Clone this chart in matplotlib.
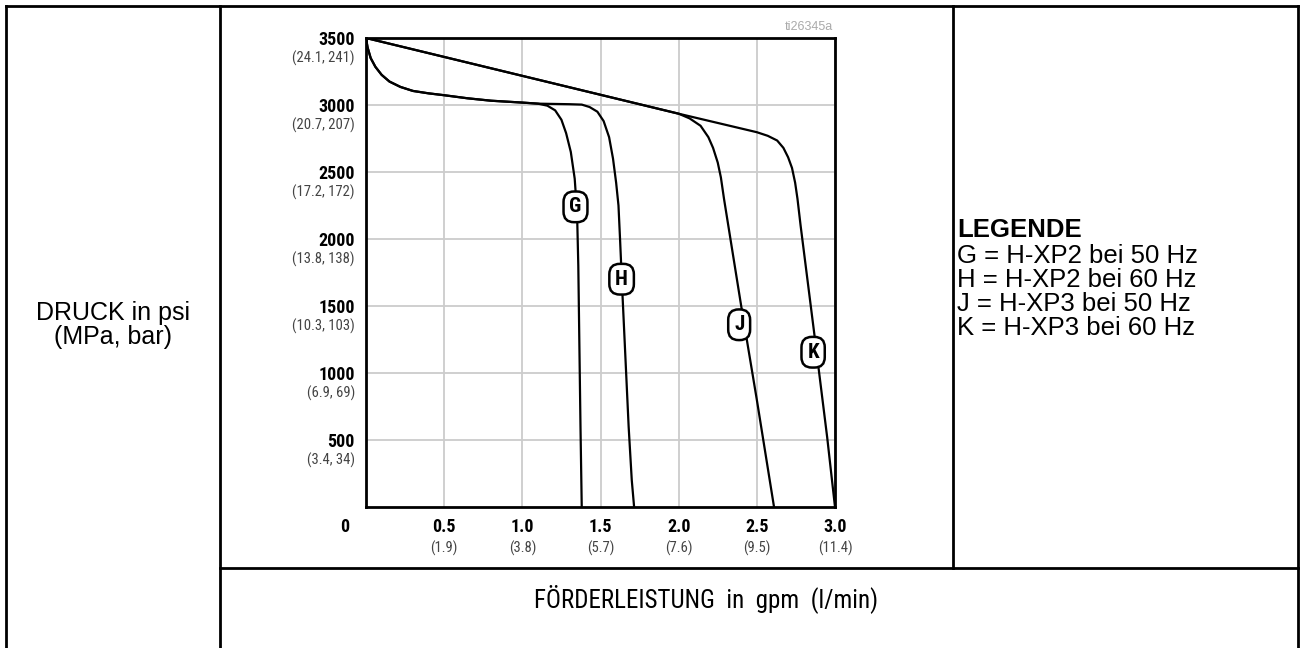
import matplotlib
matplotlib.use("Agg")
import matplotlib.pyplot as plt
from matplotlib import font_manager, transforms
from matplotlib.lines import Line2D

# ---- data -------------------------------------------------------------
# flow (gpm) / pressure (psi) points along each pump curve
g_flow = [0, 0.01, 0.03, 0.06, 0.10, 0.15, 0.22, 0.30, 0.40, 0.50, 0.65, 0.80, 1.00, 1.10,
          1.16, 1.21, 1.25, 1.28, 1.31, 1.335, 1.35, 1.358, 1.365, 1.372, 1.378, 1.38]
g_psi = [3500, 3430, 3350, 3285, 3225, 3175, 3135, 3105, 3087, 3073, 3050, 3032, 3018, 3010,
         2995, 2960, 2890, 2790, 2650, 2450, 2200, 1800, 1200, 600, 150, 0]

h_flow = [0, 0.01, 0.03, 0.06, 0.10, 0.15, 0.22, 0.30, 0.40, 0.50, 0.65, 0.80, 1.00, 1.10,
          1.20, 1.30, 1.38, 1.43, 1.48, 1.52, 1.555, 1.58, 1.60, 1.615, 1.625, 1.64, 1.66,
          1.68, 1.70, 1.715]
h_psi = [3500, 3430, 3350, 3285, 3225, 3175, 3135, 3105, 3087, 3073, 3050, 3032, 3018, 3010,
         3008, 3006, 3003, 2985, 2950, 2880, 2760, 2600, 2420, 2250, 2000, 1600, 1100,
         600, 200, 0]

j_flow = [0, 2.00, 2.07, 2.14, 2.19, 2.22, 2.25, 2.27, 2.29, 2.40, 2.50, 2.61]
j_psi = [3500, 2935, 2900, 2845, 2760, 2680, 2570, 2460, 2300, 1500, 800, 0]

k_flow = [0, 2.00, 2.50, 2.57, 2.63, 2.67, 2.70, 2.725, 2.745, 2.76, 2.78, 2.87, 2.95, 3.00]
k_psi = [3500, 2935, 2797, 2770, 2735, 2680, 2610, 2530, 2420, 2300, 2100, 1270, 520, 0]

curve_names = ["G", "H", "J", "K"]
label_flow = [1.34, 1.635, 2.387, 2.86]
label_psi = [2240, 1700, 1360, 1155]

y_ticks = [500, 1000, 1500, 2000, 2500, 3000, 3500]
y_sub = ["(3.4, 34)", "(6.9, 69)", "(10.3, 103)", "(13.8, 138)",
         "(17.2, 172)", "(20.7, 207)", "(24.1, 241)"]
x_ticks = [0.5, 1.0, 1.5, 2.0, 2.5, 3.0]
x_tick_text = ["0.5", "1.0", "1.5", "2.0", "2.5", "3.0"]
x_sub = ["(1.9)", "(3.8)", "(5.7)", "(7.6)", "(9.5)", "(11.4)"]

legend_title = "LEGENDE"
legend_lines = ["G = H-XP2 bei 50 Hz", "H = H-XP2 bei 60 Hz",
                "J = H-XP3 bei 50 Hz", "K = H-XP3 bei 60 Hz"]
y_title = "DRUCK in psi\n(MPa, bar)"
x_title = "FÖRDERLEISTUNG  in  gpm  (l/min)"
fig_id = "ti26345a"

# ---- fonts ------------------------------------------------------------
installed = {f.name for f in font_manager.fontManager.ttflist}
narrow = next((n for n in ["Liberation Sans Narrow", "Roboto Condensed", "DejaVu Sans"]
               if n in installed), "DejaVu Sans")
sans = "Liberation Sans" if "Liberation Sans" in installed else "DejaVu Sans"

# ---- figure -----------------------------------------------------------
W, H = 1301, 648
fig = plt.figure(figsize=(W / 100, H / 100), dpi=100)
fig.patch.set_facecolor("white")


def fx(px):
    return px / W


def fy(py):
    return 1 - py / H


# table frame
frame_lw = 2.0
frame = [
    ([6, 1298], [6, 6]),
    ([6, 6], [6, 648]),
    ([1298, 1298], [6, 648]),
    ([220, 220], [6, 648]),
    ([953, 953], [6, 568]),
    ([220, 1298], [568, 568]),
]
for xs, ys in frame:
    fig.add_artist(Line2D([fx(v) for v in xs], [fy(v) for v in ys],
                          transform=fig.transFigure, color="black",
                          lw=frame_lw, solid_capstyle="projecting"))

ax = fig.add_axes([fx(366), fy(507), (835 - 366) / W, (507 - 38) / H])
ax.set_xlim(0, 3.0)
ax.set_ylim(0, 3500)
ax.set_xticks(x_ticks)
ax.set_yticks(y_ticks)
ax.grid(True, color="#cccccc", lw=1.3)
ax.set_axisbelow(True)
ax.tick_params(length=0, labelbottom=False, labelleft=False)
for s in ax.spines.values():
    s.set_linewidth(2.0)
    s.set_color("black")

for xs, ys in [(g_flow, g_psi), (h_flow, h_psi), (j_flow, j_psi), (k_flow, k_psi)]:
    ax.plot(xs, ys, color="black", lw=1.6, solid_joinstyle="round",
            solid_capstyle="round", zorder=3)

for name, lx, ly in zip(curve_names, label_flow, label_psi):
    ax.text(lx, ly, name, ha="center", va="center", family=narrow,
            fontweight="bold", fontsize=15, zorder=5,
            bbox=dict(boxstyle="round,pad=0.28,rounding_size=0.5",
                      fc="white", ec="black", lw=1.8))

# y tick labels: psi in bold, metric values beneath
ytr = transforms.blended_transform_factory(fig.transFigure, ax.transData)
for v, sub in zip(y_ticks, y_sub):
    fig.text(fx(355), v, str(v), transform=transforms.offset_copy(ytr, fig, y=-2, units="dots"),
             ha="right", va="center", family=narrow, fontweight="bold", fontsize=13)
    fig.text(fx(355), v, sub, transform=transforms.offset_copy(ytr, fig, y=-20, units="dots"),
             ha="right", va="center", family=narrow, fontsize=10.5, color="#444444")

# x tick labels
xtr = transforms.blended_transform_factory(ax.transData, fig.transFigure)
for v, t, sub in zip(x_ticks, x_tick_text, x_sub):
    fig.text(v, fy(527), t, transform=xtr, ha="center", va="center",
             family=narrow, fontweight="bold", fontsize=13)
    fig.text(v, fy(548), sub, transform=xtr, ha="center", va="center",
             family=narrow, fontsize=10.5, color="#444444")
fig.text(0, fy(527), "0", transform=transforms.offset_copy(xtr, fig, x=-21, units="dots"),
         ha="center", va="center", family=narrow, fontweight="bold", fontsize=13)

fig.text(fx(833), fy(27), fig_id, ha="right", va="center", family=sans,
         fontsize=9, color="#aaaaaa")

# axis titles
fig.text(fx(113), fy(325), y_title, ha="center", va="center", family=sans,
         fontsize=18, linespacing=1.0)
fig.text(fx(706), fy(599), x_title, ha="center", va="center", family=narrow,
         fontsize=18)

# legend
fig.text(fx(957), fy(230), legend_title, ha="left", va="center", family=sans,
         fontweight="bold", fontsize=18.5)
for i, line in enumerate(legend_lines):
    fig.text(fx(957), fy(256 + 24 * i), line, ha="left", va="center",
             family=sans, fontsize=18.5)

fig.savefig("out.png", dpi=100, facecolor="white")
